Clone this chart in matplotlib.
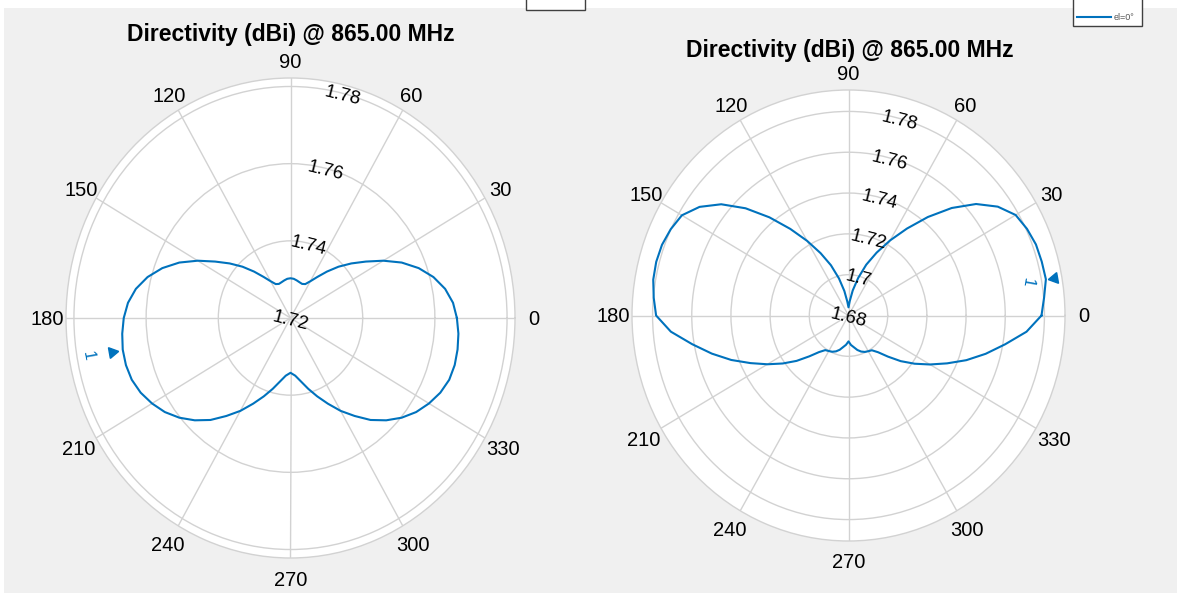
import numpy as np
import matplotlib.pyplot as plt
import matplotlib.transforms as mtransforms
from matplotlib.patches import Rectangle

plt.rcParams['font.family'] = ['Liberation Sans', 'DejaVu Sans']

# angles of the pattern samples (deg)
angles_deg = list(range(0, 360, 5))

# azimuth cut (left panel), dBi
directivity_az = [
    1.7661, 1.7652, 1.7635, 1.7610, 1.7578, 1.7540, 1.7497, 1.7455, 1.7420, 1.7388,
    1.7357, 1.7330, 1.7310, 1.7297, 1.7294, 1.7296, 1.7299, 1.7302, 1.7303, 1.7302,
    1.7299, 1.7296, 1.7294, 1.7297, 1.7310, 1.7330, 1.7357, 1.7388, 1.7420, 1.7455,
    1.7497, 1.7540, 1.7578, 1.7610, 1.7635, 1.7652, 1.7662, 1.7668, 1.7672, 1.7672,
    1.7668, 1.7658, 1.7643, 1.7625, 1.7602, 1.7575, 1.7545, 1.7510, 1.7478, 1.7445,
    1.7416, 1.7390, 1.7367, 1.7350, 1.7342, 1.7350, 1.7367, 1.7390, 1.7416, 1.7445,
    1.7478, 1.7510, 1.7545, 1.7575, 1.7602, 1.7625, 1.7643, 1.7658, 1.7668, 1.7671,
    1.7670, 1.7667,
]

# elevation cut (right panel), dBi
directivity_el = [
    1.7785, 1.7802, 1.7823, 1.7821, 1.7818, 1.7805, 1.7785, 1.7730, 1.7650, 1.7545,
    1.7430, 1.7320, 1.7225, 1.7140, 1.7065, 1.6990, 1.6925, 1.6870, 1.6840, 1.6868,
    1.6922, 1.6988, 1.7062, 1.7137, 1.7222, 1.7318, 1.7428, 1.7543, 1.7648, 1.7728,
    1.7782, 1.7801, 1.7813, 1.7816, 1.7812, 1.7798, 1.7782, 1.7710, 1.7610, 1.7522,
    1.7437, 1.7352, 1.7278, 1.7210, 1.7146, 1.7083, 1.7034, 1.7007, 1.7001, 1.6996,
    1.6987, 1.6974, 1.6957, 1.6944, 1.6927, 1.6945, 1.6958, 1.6975, 1.6988, 1.6997,
    1.7002, 1.7008, 1.7035, 1.7085, 1.7148, 1.7212, 1.7280, 1.7355, 1.7440, 1.7525,
    1.7612, 1.7712,
]

title_text = "Directivity (dBi) @ 865.00 MHz"
theta_ticks = [0, 30, 60, 90, 120, 150, 180, 210, 240, 270, 300, 330]
rticks_az = [1.72, 1.74, 1.76, 1.78]
rticks_el = [1.68, 1.70, 1.72, 1.74, 1.76, 1.78]
rlim_az = (1.72, 1.7822)
rlim_el = (1.68, 1.7905)
legend_label = "el=0°"

blue = '#0072BD'
grid_c = '#d2d2d2'
bg = '#f0f0f0'
W, H = 1177, 595

fig = plt.figure(figsize=(W / 100, H / 100), dpi=100, facecolor='white')
fig.add_artist(Rectangle((4 / W, 2 / H), 1 - 4 / W, (H - 10) / H, transform=fig.transFigure,
                         facecolor=bg, edgecolor='none', zorder=-10))
# bottom edge of a clipped legend box above the left panel
fig.add_artist(Rectangle((526 / W, (H - 10) / H), 59 / W, 0.05, transform=fig.transFigure,
                         facecolor='white', edgecolor='#404040', lw=1, zorder=-5))
# legend frame of the right panel (top runs off the image)
fig.add_artist(Rectangle((1073 / W, (H - 26) / H), 69 / W, 0.08, transform=fig.transFigure,
                         facecolor='white', edgecolor='#404040', lw=1, zorder=-5))


def draw_panel(box, values, rticks, rlim, rlab_deg, mk_off, lab_off, lab_rot):
    # box given in pixels: left, top, right, bottom
    l, t, r, b = box
    ax = fig.add_axes([l / W, (H - b) / H, (r - l) / W, (b - t) / H], projection='polar')
    ax.set_aspect('auto')
    th = np.deg2rad(np.append(angles_deg, 360))
    rv = np.append(values, values[0])
    line, = ax.plot(th, rv, color=blue, lw=1.5, zorder=3)
    ax.set_ylim(*rlim)
    ax.set_yticks(rticks)
    ax.set_yticklabels([])
    ax.set_xticks(np.deg2rad(theta_ticks))
    ax.set_xticklabels([])
    ax.tick_params(length=0)
    ax.grid(True, color=grid_c, lw=1)
    ax.spines['polar'].set_color(grid_c)
    ax.spines['polar'].set_linewidth(1)

    # angle labels just outside the rim
    for a in theta_ticks:
        s = np.sin(np.deg2rad(a))
        c = np.cos(np.deg2rad(a))
        dist = 20.5 if s < -0.1 else (17.5 if s > 0.1 else 18.5)
        tr = mtransforms.offset_copy(ax.transData, fig=fig, x=dist * c,
                                     y=dist * s - 1.5, units='dots')
        ax.text(np.deg2rad(a), rlim[1], str(a), transform=tr, ha='center',
                va='center', fontsize=14.5, clip_on=False)

    shift = mtransforms.offset_copy(ax.transData, fig=fig, x=0, y=-3, units='dots')
    for rt in rticks:
        ax.text(np.deg2rad(rlab_deg), rt, f"{rt:g}", transform=shift, rotation=-14,
                ha='center', va='center', fontsize=13.5, color='black', zorder=4)

    # peak marker
    i = int(np.argmax(values))
    a = angles_deg[i]
    ax.plot(np.deg2rad(a), values[i] + mk_off, marker=(3, 0, a + 90), ms=9,
            color=blue, clip_on=False, zorder=5)
    ax.text(np.deg2rad(a), values[i] + lab_off, "1", color=blue, fontsize=12,
            rotation=lab_rot, ha='center', va='center')
    return ax, line


ax1, l1 = draw_panel((66, 78, 515, 558), directivity_az, rticks_az, rlim_az, 76,
                     0.0030, 0.0098, -80)
ax2, l2 = draw_panel((632, 90, 1065, 541), directivity_el, rticks_el, rlim_el, 75,
                     0.0042, -0.0098, -100)

fig.text(291 / W, 1 - 35 / H, title_text, ha='center', va='center',
         fontsize=16.5, fontweight='bold')
fig.text(850 / W, 1 - 50 / H, title_text, ha='center', va='center',
         fontsize=16.5, fontweight='bold')

fig.legend(handles=[l2], labels=[legend_label], loc='center left',
           bbox_to_anchor=(1077 / W, 1 - 18 / H), fontsize=6.5, frameon=False,
           handlelength=3.8, handletextpad=0.25, borderpad=0, borderaxespad=0,
           labelcolor='#555555')

fig.savefig('out.png', dpi=100, facecolor=fig.get_facecolor())
